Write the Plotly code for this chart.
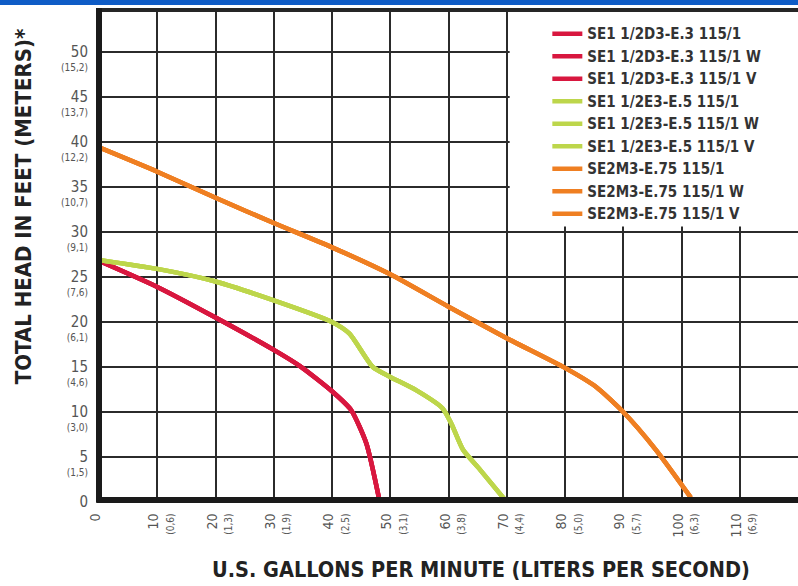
import plotly.graph_objects as go

# ---- data ----
red_gpm = [0, 10, 20, 30, 34.5, 40, 43.3, 45.9, 48.2]
red_ft = [26.8, 23.9, 20.5, 16.9, 15.1, 12.3, 10.2, 6.5, 0]

green_gpm = [0, 10, 20, 30, 40, 43, 47, 50, 54.5, 59, 60.5, 62.5, 65.4, 70]
green_ft = [26.9, 25.9, 24.5, 22.4, 20.0, 18.7, 15.0, 13.9, 12.4, 10.4, 8.7, 5.8, 3.6, 0]

orange_gpm = [0, 10, 20, 30, 40, 50, 60, 70, 80, 85.3, 90, 95.6, 101.6]
orange_ft = [39.4, 36.7, 33.8, 31.0, 28.3, 25.3, 21.7, 18.2, 14.9, 12.8, 10.0, 5.8, 0.5]

red_names = ["SE1 1/2D3-E.3 115/1", "SE1 1/2D3-E.3 115/1 W", "SE1 1/2D3-E.3 115/1 V"]
green_names = ["SE1 1/2E3-E.5 115/1", "SE1 1/2E3-E.5 115/1 W", "SE1 1/2E3-E.5 115/1 V"]
orange_names = ["SE2M3-E.75 115/1", "SE2M3-E.75 115/1 W", "SE2M3-E.75 115/1 V"]

x_ticks = [0, 10, 20, 30, 40, 50, 60, 70, 80, 90, 100, 110]
x_metric = ["", "(0,6)", "(1,3)", "(1,9)", "(2,5)", "(3,1)", "(3,8)", "(4,4)", "(5,0)", "(5,7)", "(6,3)", "(6,9)"]
y_ticks = [0, 5, 10, 15, 20, 25, 30, 35, 40, 45, 50]
y_metric = ["", "(1,5)", "(3,0)", "(4,6)", "(6,1)", "(7,6)", "(9,1)", "(10,7)", "(12,2)", "(13,7)", "(15,2)"]

RED = "#d8173f"
GREEN = "#bdd64b"
ORANGE = "#ef7f22"
COND = "DejaVu Sans Condensed, Liberation Sans Narrow, Roboto Condensed, Arial Narrow, sans-serif"

fig = go.Figure()
for names, xs, ys, col in [(red_names, red_gpm, red_ft, RED),
                           (green_names, green_gpm, green_ft, GREEN),
                           (orange_names, orange_gpm, orange_ft, ORANGE)]:
    for nm in names:
        fig.add_trace(go.Scatter(x=xs, y=ys, mode="lines", name=nm,
                                 line=dict(color=col, width=4.5, shape="spline", smoothing=0.6)))

def lab(v, m, big, small):
    if m:
        return f"<span style='font-size:{big}px'>{v}</span><br><span style='font-size:{small}px'>{m}</span>"
    return f"<span style='font-size:{big}px'>{v}</span><br> "

fig.update_layout(
    width=798, height=586,
    margin=dict(l=99, r=0, t=10, b=84, autoexpand=False),
    paper_bgcolor="white", plot_bgcolor="white",
    showlegend=True,
    legend=dict(x=0.6414, y=0.985, xanchor="left", yanchor="top",
                bgcolor="rgba(0,0,0,0)", borderwidth=0,
                font=dict(family=COND, size=15, color="#333333", weight="bold"),
                itemwidth=30),
    xaxis=dict(range=[0, 120], tickmode="array", tickvals=x_ticks,
               ticktext=[lab(v, m, 14, 10) for v, m in zip(x_ticks, x_metric)],
               tickangle=-90, ticks="", showgrid=True, gridcolor="#2b2b2b", gridwidth=1.6,
               zeroline=False, showline=False, ticklabelshift=5, ticklabelstandoff=8,
               automargin=False,
               tickfont=dict(family=COND, size=12, color="#555555")),
    yaxis=dict(range=[0, 54.67], tickmode="array", tickvals=y_ticks,
               ticktext=[lab(v, m, 15, 10) for v, m in zip(y_ticks, y_metric)],
               ticks="", showgrid=True, gridcolor="#2b2b2b", gridwidth=1.6,
               zeroline=False, showline=False, ticklabelshift=8, ticklabelstandoff=10,
               automargin=False,
               tickfont=dict(family=COND, size=11, color="#555555")),
    shapes=[
        # white legend box
        dict(type="rect", xref="x", yref="y", x0=70.5, x1=120, y0=30.6, y1=54.67,
             fillcolor="white", line=dict(width=0), layer="above"),
        # top frame
        dict(type="line", xref="paper", yref="paper", x0=-0.003, x1=1, y0=1, y1=1,
             line=dict(color="#262626", width=4), layer="above"),
        # left axis
        dict(type="line", xref="paper", yref="paper", x0=0, x1=0, y0=0, y1=1.004,
             line=dict(color="#1a1a1a", width=6), layer="above"),
        # bottom axis
        dict(type="line", xref="paper", yref="paper", x0=-0.004, x1=1, y0=0.004, y1=0.004,
             line=dict(color="#1a1a1a", width=6), layer="above"),
        # blue band
        dict(type="rect", xref="paper", yref="paper", x0=-0.5, x1=1.2, y0=1.0102, y1=1.1,
             fillcolor="#0f5cc6", line=dict(width=0), layer="above"),
    ],
    annotations=[
        dict(text="U.S. GALLONS PER MINUTE (LITERS PER SECOND)", xref="paper", yref="paper",
             x=0.546, y=-0.138, xanchor="center", yanchor="middle", showarrow=False,
             font=dict(family=COND, size=21.5, color="#222222", weight="bold")),
        dict(text="TOTAL HEAD IN FEET (METERS)*", xref="paper", yref="paper",
             x=-0.108, y=0.6, xanchor="center", yanchor="middle", showarrow=False, textangle=-90,
             font=dict(family=COND, size=22, color="#222222", weight="bold")),
    ],
)

fig.write_html("out.html", config={"displayModeBar": False},
               post_script="document.body.style.margin='0';document.body.style.padding='0';")
